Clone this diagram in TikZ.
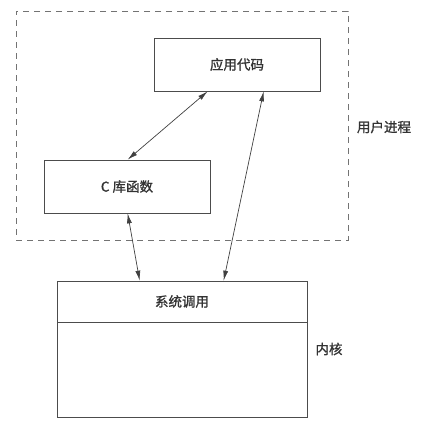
\documentclass[tikz,border=0pt]{standalone}
\usepackage{fontspec}
\newfontfamily\cjk[FakeBold=1.2]{Noto Sans CJK SC}
\usetikzlibrary{arrows.meta,calc}
\begin{document}
\begin{tikzpicture}[x=1pt,y=-1pt,
  every node/.style={font=\cjk\fontsize{13.5}{16}\selectfont, text=black!80, inner sep=0pt},
  boxnode/.style={draw=black!70, line width=0.7pt, rectangle},
  link/.style={draw=black!75, line width=0.7pt, {Latex[length=10pt,width=5pt]}-{Latex[length=10pt,width=5pt]}},
  dashbox/.style={draw=black!55, line width=0.8pt, dash pattern=on 6pt off 5pt, rectangle}
]
\useasboundingbox (0,0) rectangle (425,424);
\node[dashbox, minimum width=332pt, minimum height=229pt] (user) at (182,125.5) {};
\node (userlbl) at (384,127) {用户进程};
\node[boxnode, minimum width=166pt, minimum height=53pt] (app) at (237,64.5) {应用代码};
\node[boxnode, minimum width=166pt, minimum height=53pt] (clib) at (127,186.5) {C 库函数};
\node[boxnode, minimum width=250pt, minimum height=41pt] (sys) at (182,301.5) {系统调用};
\node[boxnode, minimum width=250pt, minimum height=95pt] (kbody) at (182,369.5) {};
\node (klbl) at (329,349) {内核};
\draw[link] ($(app.south west)+(54,0)$) -- ($(clib.north west)+(84,0)$);
\draw[link] ($(app.south west)+(110,0)$) -- ($(sys.north west)+(167,0)$);
\draw[link] ($(clib.south west)+(84,0)$) -- ($(sys.north west)+(83,0)$);
\end{tikzpicture}
\end{document}
